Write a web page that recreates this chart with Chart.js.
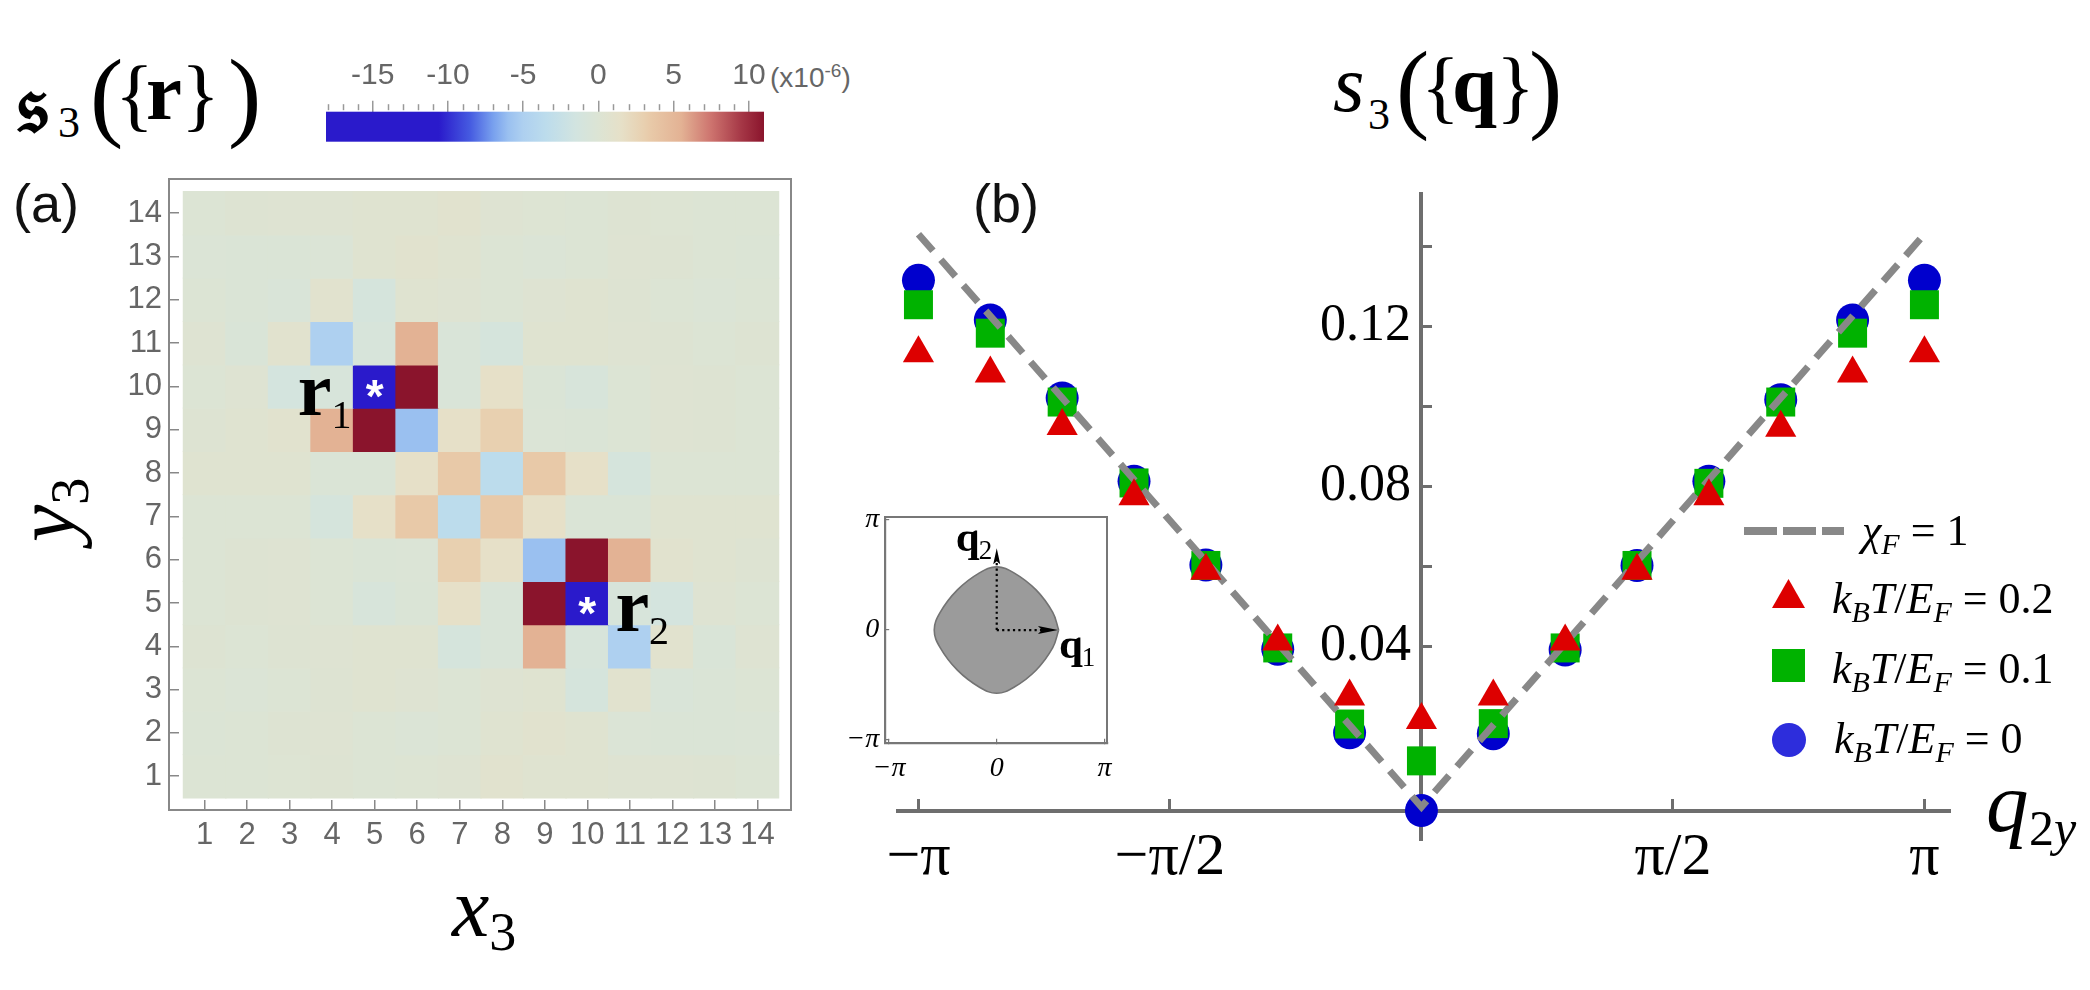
<!DOCTYPE html>
<html>
<head>
<meta charset="utf-8">
<title>s3 correlations</title>
<script src="https://cdn.jsdelivr.net/npm/chart.js@4.4.1/dist/chart.umd.min.js"></script>
<style>
    body { margin: 0; background: #fff; }
    #page { position: relative; width: 2090px; height: 990px; overflow: hidden; background: #fff; }
    .box { position: absolute; }
    .g { position: absolute; line-height: 1; white-space: nowrap; }
    .serif { font-family: 'Liberation Serif', 'DejaVu Serif', serif; color: #000; }
    .sans { font-family: 'Liberation Sans', Arial, sans-serif; }
    .leg { position: absolute; font-size: 44px; line-height: 60px; height: 60px; white-space: nowrap; }
    .leg sub { font-size: 30px; vertical-align: -9px; line-height: 0; }
    .tri { width: 33px; height: 29px; background: #dd0000; clip-path: polygon(50% 0, 100% 100%, 0 100%); }
    .sq { width: 33px; height: 33px; background: #00b200; }
    .dot { width: 34px; height: 34px; border-radius: 50%; background: #2d2ddc; }
    .dash { height: 8px; background: repeating-linear-gradient(90deg, #888 0 33px, transparent 33px 39px); }
</style>
</head>
<body>
<div id="page">
    <div class="g sans" style="left:13px; top:176px; font-size:54px; color:#111;">(a)</div>
    <div class="g sans" style="left:973px; top:176px; font-size:54px; color:#111;">(b)</div>

    <!-- fraktur s_3({r}) -->
    <div class="g serif" style="left:17px; top:64px; font-size:82px; font-weight:bold;">𝔰</div>
    <div class="g serif" style="left:58px; top:101px; font-size:44px;">3</div>
    <div class="g serif" style="left:90px; top:45px; font-size:100px;">(</div>
    <div class="g serif" style="left:115px; top:54px; font-size:81px;">{</div>
    <div class="g serif" style="left:146px; top:52px; font-size:81px; font-weight:bold;">r</div>
    <div class="g serif" style="left:181px; top:54px; font-size:81px;">}</div>
    <div class="g serif" style="left:228px; top:45px; font-size:100px;">)</div>

    <!-- s_3({q}) -->
    <div class="g serif" style="left:1333px; top:44px; font-size:81px; font-style:italic;">s</div>
    <div class="g serif" style="left:1368px; top:93px; font-size:44px;">3</div>
    <div class="g serif" style="left:1396px; top:37px; font-size:100px;">(</div>
    <div class="g serif" style="left:1421px; top:46px; font-size:81px;">{</div>
    <div class="g serif" style="left:1452px; top:44px; font-size:81px; font-weight:bold;">q</div>
    <div class="g serif" style="left:1496px; top:46px; font-size:81px;">}</div>
    <div class="g serif" style="left:1529px; top:37px; font-size:100px;">)</div>

    <div class="g sans" style="left:770px; top:61px; font-size:28px; color:#666;">(x10<sup style="font-size:19px;">-6</sup>)</div>

    <!-- axis titles of panel (a) -->
    <div class="g serif" style="left:452px; top:866px; font-size:84px; font-style:italic;">x<span style="font-size:54px; font-style:normal; position:relative; top:14px;">3</span></div>
    <div class="g serif" style="left:-2px; top:452px; font-size:84px; font-style:italic; transform:rotate(-90deg); transform-origin:50% 50%; width:96px; height:84px;">y<span style="font-size:54px; font-style:normal; position:relative; top:14px;">3</span></div>

    <canvas id="barChart" class="box" width="520" height="120" style="left:300px; top:30px;"></canvas>
    <canvas id="heatChart" class="box" width="830" height="850" style="left:0px; top:140px;"></canvas>
    <canvas id="curveChart" class="box" width="1230" height="840" style="left:860px; top:150px;"></canvas>
    <canvas id="insetChart" class="box" width="310" height="300" style="left:820px; top:490px;"></canvas>

    <!-- q_2y -->
    <div class="g serif" style="left:1986px; top:760px; font-size:85px; font-style:italic;">q</div>
    <div class="g serif" style="left:2029px; top:803px; font-size:50px;">2<i>y</i></div>

    <!-- legend of panel (b) -->
    <div class="dash box" style="left:1744px; top:527px; width:100px;"></div>
    <div class="leg serif" style="left:1862px; top:501px;"><span><i>χ</i><sub><i>F</i></sub>&nbsp;=&nbsp;1</span></div>
    <div class="tri box" style="left:1772px; top:579px;"></div>
    <div class="leg serif" style="left:1832px; top:569px;"><span><i>k</i><sub><i>B</i></sub><i>T</i>/<i>E</i><sub><i>F</i></sub>&nbsp;=&nbsp;0.2</span></div>
    <div class="sq box" style="left:1772px; top:649px;"></div>
    <div class="leg serif" style="left:1832px; top:639px;"><span><i>k</i><sub><i>B</i></sub><i>T</i>/<i>E</i><sub><i>F</i></sub>&nbsp;=&nbsp;0.1</span></div>
    <div class="dot box" style="left:1772px; top:723px;"></div>
    <div class="leg serif" style="left:1834px; top:709px;"><span><i>k</i><sub><i>B</i></sub><i>T</i>/<i>E</i><sub><i>F</i></sub>&nbsp;=&nbsp;0</span></div>
</div>

<script>
// --- Panel (a): real-space map, values in units of 1e-6 ---
const cellCols = [1, 2, 3, 4, 5, 6, 7, 8, 9, 10, 11, 12, 13, 14];
const cellRows = [14, 13, 12, 11, 10, 9, 8, 7, 6, 5, 4, 3, 2, 1];   // top row first
const cellValues = [
    [ 0.0,  0.2,  0.3,  0.3,   0.5,   0.5,  0.7,  0.3,   0.1,   0.0,  0.2,  0.1,  0.0,  0.0],
    [-0.2, -0.3, -0.3, -0.2,   0.5,   0.8,  0.5,  0.0,  -0.2,   0.0,  0.3,  0.2,  0.0, -0.1],
    [ 0.0, -0.3, -0.5,  0.8,  -1.0,   0.5,  0.3,  0.0,   0.3,   0.5,  0.2,  0.0, -0.2,  0.0],
    [ 0.3, -0.4,  0.8, -5.0,  -0.8,   5.5, -0.5, -1.0,   0.5,   0.5,  0.3,  0.2,  0.0,  0.2],
    [ 0.0,  0.3, -1.2, -0.8, -18.1,  11.0, -0.5,  1.5,  -0.3,  -0.8,  0.0,  0.3,  0.2,  0.0],
    [ 0.2,  0.5,  0.8,  5.5,  11.0,  -6.0,  1.5,  3.0,  -0.2,  -0.3,  0.0,  0.3,  0.2,  0.0],
    [ 0.5,  0.5,  0.5, -0.3,  -0.3,   1.5,  3.5, -3.5,   3.5,   1.5, -1.0,  0.0,  0.0,  0.0],
    [ 0.0,  0.0,  0.0, -1.0,   1.5,   3.5, -3.5,  3.5,   1.5,  -0.3, -0.3,  0.5,  0.5,  0.5],
    [ 0.0,  0.2,  0.3,  0.0,  -0.3,  -0.2,  3.0,  1.5,  -6.0,  11.0,  5.5,  0.8,  0.5,  0.2],
    [ 0.0,  0.2,  0.3,  0.0,  -0.8,  -0.3,  1.5, -0.5,  11.0, -18.1, -0.8, -1.2,  0.3,  0.0],
    [ 0.2,  0.0,  0.2,  0.3,   0.5,   0.5, -1.0, -0.5,   5.5,  -0.8, -5.0,  0.8, -0.4,  0.3],
    [ 0.0, -0.2,  0.0,  0.2,   0.5,   0.3,  0.0,  0.3,   0.5,  -1.0,  0.8, -0.5, -0.3,  0.0],
    [-0.1,  0.0,  0.2,  0.3,   0.0,  -0.2,  0.0,  0.5,   0.8,   0.5, -0.2, -0.3, -0.3, -0.2],
    [ 0.0,  0.0,  0.1,  0.2,   0.0,   0.1,  0.3,  0.7,   0.5,   0.5,  0.3,  0.3,  0.2,  0.0]
];
const heatTicks = [1, 2, 3, 4, 5, 6, 7, 8, 9, 10, 11, 12, 13, 14];
const starCells = [[5, 10], [10, 5]];
const siteLabels = [[3.19, 9.34, '1'], [10.66, 4.35, '2']];   // r1, r2 in cell coordinates

// --- Colour bar ---
const barRange = [-18.1, 11.0];
const barMajorTicks = [-15, -10, -5, 0, 5, 10];
const barMinorTicks = [-18, -17, -16, -14, -13, -12, -11, -9, -8, -7, -6, -4, -3, -2, -1, 1, 2, 3, 4, 6, 7, 8, 9];

// --- Panel (b): s3 along q2y ---
const qPoints = [-3.1416, -2.6928, -2.2440, -1.7952, -1.3464, -0.8976, -0.4488, 0,
                 0.4488, 0.8976, 1.3464, 1.7952, 2.2440, 2.6928, 3.1416];
const sT0  = [0.1315, 0.1216, 0.1021, 0.0813, 0.0604, 0.0394, 0.0185, -0.0009,
              0.0183, 0.0392, 0.0603, 0.0813, 0.1017, 0.1216, 0.1315];
const sT01 = [0.1254, 0.1183, 0.1011, 0.0809, 0.0603, 0.0397, 0.0207, 0.0115,
              0.0208, 0.0397, 0.0603, 0.0808, 0.1011, 0.1183, 0.1254];
const sT02 = [0.1133, 0.1082, 0.0951, 0.0776, 0.0590, 0.0413, 0.0276, 0.0217,
              0.0276, 0.0413, 0.0590, 0.0776, 0.0947, 0.1082, 0.1133];
const lineQ = [-3.1416, 0, 3.1416];
const lineS = [0.143, 0.0, 0.143];
const xTickValues = [-3.1416, -1.5708, 1.5708, 3.1416];
const xTickLabels = ['\u2212\u03c0', '\u2212\u03c0/2', '\u03c0/2', '\u03c0'];
const yTickValues = [0.02, 0.04, 0.06, 0.08, 0.10, 0.12, 0.14];
const yTickLabels = ['', '0.04', '', '0.08', '', '0.12', ''];

// --- Inset: region in (q1, q2), units of pi ---
const blobQ1 = [0.575, 0.52, 0.365, 0.16, 0, -0.16, -0.365, -0.525, -0.58, -0.525, -0.365, -0.16, 0, 0.16, 0.365, 0.52, 0.575];
const blobQ2 = [0, 0.16, 0.365, 0.52, 0.575, 0.52, 0.365, 0.16, 0, -0.16, -0.365, -0.52, -0.575, -0.52, -0.365, -0.16, 0];
const insetTicks = [-1, 0, 1];
const insetTickLabels = ['\u2212\u03c0', '0', '\u03c0'];
const arrowQ1 = [0.568, 0];
const arrowQ2 = [0, 0.743];

// --- colour map (styling only) ---
const colorStops = [
    [-18.1, 42, 26, 203], [-10.6, 42, 26, 203], [-8.5, 70, 92, 225], [-7, 120, 160, 238],
    [-6, 154, 192, 240], [-5, 174, 208, 240], [-3.5, 188, 220, 236], [-1.5, 210, 228, 224],
    [0, 220, 228, 212], [1.5, 230, 224, 200], [3, 232, 208, 176], [3.5, 232, 201, 168],
    [5.5, 227, 178, 148], [7.5, 205, 115, 110], [9.5, 165, 55, 70], [11.0, 138, 20, 44]
];
function rgbOf(s) { return 'rgb(' + s[1] + ',' + s[2] + ',' + s[3] + ')'; }
function heatColor(v) {
    if (v <= colorStops[0][0]) return rgbOf(colorStops[0]);
    for (let i = 1; i < colorStops.length; i++) {
        const b = colorStops[i];
        if (v <= b[0]) {
            const a = colorStops[i - 1];
            const t = (v - a[0]) / (b[0] - a[0]);
            return rgbOf([0, 1, 2, 3].map(k => Math.round(a[k] + (b[k] - a[k]) * t)));
        }
    }
    return rgbOf(colorStops[colorStops.length - 1]);
}

const SERIF = "'Liberation Serif', 'DejaVu Serif', serif";
const SANS = "'Liberation Sans', Arial, sans-serif";
const frameAxis = (pos, color) => ({
    type: 'linear', position: pos, min: 0, max: 1, display: true,
    ticks: { display: false }, grid: { display: false },
    border: { color: color, width: 2 },
    afterFit: s => { if (pos === 'top' || pos === 'bottom') s.height = 0; else s.width = 0; }
});

// --- Panel (a) chart ---
const heatNotes = {
    id: 'heatNotes',
    afterDatasetsDraw(chart) {
        const { ctx, scales: { x, y } } = chart;
        ctx.save();
        ctx.fillStyle = '#fff';
        ctx.font = 'bold 46px ' + SANS;
        ctx.textAlign = 'center';
        ctx.textBaseline = 'alphabetic';
        starCells.forEach(c => ctx.fillText('*', x.getPixelForValue(c[0]), y.getPixelForValue(c[1]) + 26));
        // labels r1 / r2
        ctx.fillStyle = '#000';
        ctx.textAlign = 'left';
        siteLabels.forEach(l => {
            const px = x.getPixelForValue(l[0]);
            const py = y.getPixelForValue(l[1]);
            ctx.font = 'bold 76px ' + SERIF;
            ctx.fillText('r', px, py);
            const w = ctx.measureText('r').width;
            ctx.font = '40px ' + SERIF;
            ctx.fillText(l[2], px + w, py + 13);
        });
        ctx.restore();
    }
};

new Chart(document.getElementById('heatChart'), {
    type: 'bar',
    data: {
        datasets: cellRows.map((row, r) => ({
            data: cellCols.map(col => ({ x: col, y: [row - 0.5, row + 0.5] })),
            backgroundColor: cellValues[r].map(heatColor),
            borderWidth: 0,
            inflateAmount: 0.6,
            barPercentage: 1,
            categoryPercentage: 1,
            grouped: false
        }))
    },
    options: {
        responsive: false,
        animation: false,
        layout: { padding: { top: 39, right: 39, left: 0, bottom: 0 } },
        plugins: { legend: { display: false }, tooltip: { enabled: false } },
        scales: {
            x: {
                type: 'linear', position: 'bottom', min: 0.162, max: 14.79, offset: false,
                afterBuildTicks: s => { s.ticks = heatTicks.map(v => ({ value: v })); },
                afterFit: s => { s.height = 180; },
                grid: { offset: false, drawOnChartArea: false, tickLength: -10, color: '#888', lineWidth: 1.5 },
                border: { color: '#888', width: 2 },
                ticks: { font: { family: SANS, size: 31 }, color: '#666', padding: 17, maxRotation: 0, autoSkip: false }
            },
            y: {
                type: 'linear', position: 'left', min: 0.22, max: 14.79,
                afterBuildTicks: s => { s.ticks = heatTicks.map(v => ({ value: v })); },
                afterFit: s => { s.width = 169; },
                grid: { drawOnChartArea: false, tickLength: -10, color: '#888', lineWidth: 1.5 },
                border: { color: '#888', width: 2 },
                ticks: { font: { family: SANS, size: 31 }, color: '#666', padding: 17, autoSkip: false }
            },
            xTop: frameAxis('top', '#888'),
            yRight: frameAxis('right', '#888')
        }
    },
    plugins: [heatNotes]
});

// --- Colour bar chart ---
const barFill = {
    id: 'barFill',
    beforeDatasetsDraw(chart) {
        const { ctx, chartArea: a, scales: { x } } = chart;
        const g = ctx.createLinearGradient(x.getPixelForValue(barRange[0]), 0, x.getPixelForValue(barRange[1]), 0);
        colorStops.forEach(s => g.addColorStop((s[0] - barRange[0]) / (barRange[1] - barRange[0]), rgbOf(s)));
        ctx.save();
        ctx.fillStyle = g;
        ctx.fillRect(a.left, a.top, a.right - a.left, a.bottom - a.top);
        ctx.strokeStyle = '#999';
        ctx.lineWidth = 1.5;
        barMinorTicks.forEach(v => {
            const px = Math.round(x.getPixelForValue(v)) + 0.5;
            ctx.beginPath();
            ctx.moveTo(px, a.top - 1.5);
            ctx.lineTo(px, a.top - 7.5);
            ctx.stroke();
        });
        ctx.restore();
    }
};

new Chart(document.getElementById('barChart'), {
    type: 'scatter',
    data: { datasets: [] },
    options: {
        responsive: false,
        animation: false,
        layout: { padding: { left: 26, right: 56, bottom: 8.3, top: 0 } },
        plugins: { legend: { display: false }, tooltip: { enabled: false } },
        scales: {
            x: {
                type: 'linear', position: 'top', min: barRange[0], max: barRange[1],
                afterBuildTicks: s => { s.ticks = barMajorTicks.map(v => ({ value: v })); },
                afterFit: s => { s.height = 81.7; },
                grid: { drawOnChartArea: false, tickLength: 11, color: '#999', lineWidth: 1.5 },
                border: { display: false },
                ticks: { font: { family: SANS, size: 30 }, color: '#666', padding: 7, maxRotation: 0, autoSkip: false }
            },
            y: { display: false, min: 0, max: 1 }
        }
    },
    plugins: [barFill]
});

// --- Panel (b) chart ---
const pts = arr => qPoints.map((q, i) => ({ x: q, y: arr[i] }));

new Chart(document.getElementById('curveChart'), {
    type: 'scatter',
    data: {
        datasets: [
            {
                label: 'chiF = 1', data: lineQ.map((q, i) => ({ x: q, y: lineS[i] })),
                showLine: true, borderColor: '#888', borderWidth: 7, borderDash: [22, 12],
                pointRadius: 0, order: 1, clip: false
            },
            {
                label: 'kBT/EF = 0.2', data: pts(sT02), pointStyle: 'triangle', pointRadius: 18,
                pointBackgroundColor: '#dd0000', pointBorderWidth: 0, order: 0, clip: false
            },
            {
                label: 'kBT/EF = 0.1', data: pts(sT01), pointStyle: 'rect', pointRadius: 20.5,
                pointBackgroundColor: '#00b200', pointBorderWidth: 0, order: 2, clip: false
            },
            {
                label: 'kBT/EF = 0', data: pts(sT0), pointStyle: 'circle', pointRadius: 16.5,
                pointBackgroundColor: '#0000cd', pointBorderWidth: 0, order: 3, clip: false
            }
        ]
    },
    options: {
        responsive: false,
        animation: false,
        layout: { padding: { left: 19.5, top: 12.7, right: 139.4, bottom: 150 } },
        plugins: { legend: { display: false }, tooltip: { enabled: false } },
        scales: {
            x: {
                type: 'linear', position: { y: -0.00095 }, min: -3.2675, max: 3.305,
                afterBuildTicks: s => { s.ticks = xTickValues.map(v => ({ value: v })); },
                grid: { drawOnChartArea: false, tickLength: -14, tickColor: '#6e6e6e', tickWidth: 3 },
                border: { color: '#6e6e6e', width: 4 },
                ticks: { callback: (v, i) => xTickLabels[i], font: { family: SERIF, size: 60 }, color: '#000', padding: 26, maxRotation: 0, autoSkip: false }
            },
            y: {
                type: 'linear', position: { x: 0 }, min: -0.00826, max: 0.153,
                afterBuildTicks: s => { s.ticks = yTickValues.map(v => ({ value: v })); },
                grid: { drawOnChartArea: false, tickLength: -13, tickColor: '#6e6e6e', tickWidth: 3 },
                border: { color: '#6e6e6e', width: 4 },
                ticks: { callback: (v, i) => yTickLabels[i] ? yTickLabels[i] + '\u2009' : '', font: { family: SERIF, size: 52 }, color: '#000', padding: 13, autoSkip: false }
            }
        }
    }
});

// --- Inset chart ---
const insetArrows = {
    id: 'insetArrows',
    afterDatasetsDraw(chart) {
        const { ctx, scales: { x, y } } = chart;
        const ox = x.getPixelForValue(0), oy = y.getPixelForValue(0);
        const ex = x.getPixelForValue(arrowQ1[0]), ey = y.getPixelForValue(arrowQ1[1]);
        const fx = x.getPixelForValue(arrowQ2[0]), fy = y.getPixelForValue(arrowQ2[1]);
        ctx.save();
        ctx.strokeStyle = '#000';
        ctx.fillStyle = '#000';
        ctx.lineWidth = 2.2;
        ctx.setLineDash([2.2, 3.2]);
        ctx.beginPath(); ctx.moveTo(ox, oy); ctx.lineTo(ex - 14, ey); ctx.stroke();
        ctx.beginPath(); ctx.moveTo(ox, oy); ctx.lineTo(fx, fy + 12); ctx.stroke();
        ctx.setLineDash([]);
        ctx.beginPath(); ctx.moveTo(ex, ey); ctx.lineTo(ex - 20, ey - 4); ctx.lineTo(ex - 16, ey); ctx.lineTo(ex - 20, ey + 4); ctx.closePath(); ctx.fill();
        ctx.beginPath(); ctx.moveTo(fx, fy); ctx.lineTo(fx - 3.5, fy + 16); ctx.lineTo(fx, fy + 13); ctx.lineTo(fx + 3.5, fy + 16); ctx.closePath(); ctx.fill();
        ctx.textBaseline = 'alphabetic';
        ctx.textAlign = 'left';
        [[ex + 1, ey + 28, '1'], [fx - 41, fy + 3, '2']].forEach(l => {
            ctx.font = 'bold 43px ' + SERIF;
            ctx.fillText('q', l[0], l[1]);
            const w = ctx.measureText('q').width;
            ctx.font = '27px ' + SERIF;
            ctx.fillText(l[2], l[0] + w - 1, l[1] + 8);
        });
        ctx.restore();
    }
};

new Chart(document.getElementById('insetChart'), {
    type: 'scatter',
    data: {
        datasets: [{
            data: blobQ1.map((q, i) => ({ x: q, y: blobQ2[i] })),
            showLine: true, tension: 0.4, fill: 'shape',
            backgroundColor: '#9b9b9b', borderColor: '#737373', borderWidth: 1.6,
            pointRadius: 0
        }]
    },
    options: {
        responsive: false,
        animation: false,
        layout: { padding: { left: 0, top: 26.7, right: 22.6, bottom: 0 } },
        plugins: { legend: { display: false }, tooltip: { enabled: false } },
        scales: {
            x: {
                type: 'linear', position: 'bottom', min: -1.035, max: 1.027,
                afterBuildTicks: s => { s.ticks = insetTicks.map(v => ({ value: v })); },
                afterFit: s => { s.height = 47.3; },
                grid: { drawOnChartArea: false, tickLength: -4, color: '#777', lineWidth: 1.2 },
                border: { color: '#777', width: 2.2 },
                ticks: { callback: (v, i) => insetTickLabels[i], font: { family: SERIF, size: 28, style: 'italic' }, color: '#000', padding: 13, maxRotation: 0, autoSkip: false }
            },
            y: {
                type: 'linear', position: 'left', min: -1.0245, max: 1.03,
                afterBuildTicks: s => { s.ticks = insetTicks.map(v => ({ value: v })); },
                afterFit: s => { s.width = 65.2; },
                grid: { drawOnChartArea: false, tickLength: -4, color: '#777', lineWidth: 1.2 },
                border: { color: '#777', width: 2.2 },
                ticks: { callback: (v, i) => insetTickLabels[i], font: { family: SERIF, size: 28, style: 'italic' }, color: '#000', padding: 10, autoSkip: false }
            },
            xTop: frameAxis('top', '#777'),
            yRight: frameAxis('right', '#777')
        }
    },
    plugins: [insetArrows]
});
</script>
</body>
</html>
